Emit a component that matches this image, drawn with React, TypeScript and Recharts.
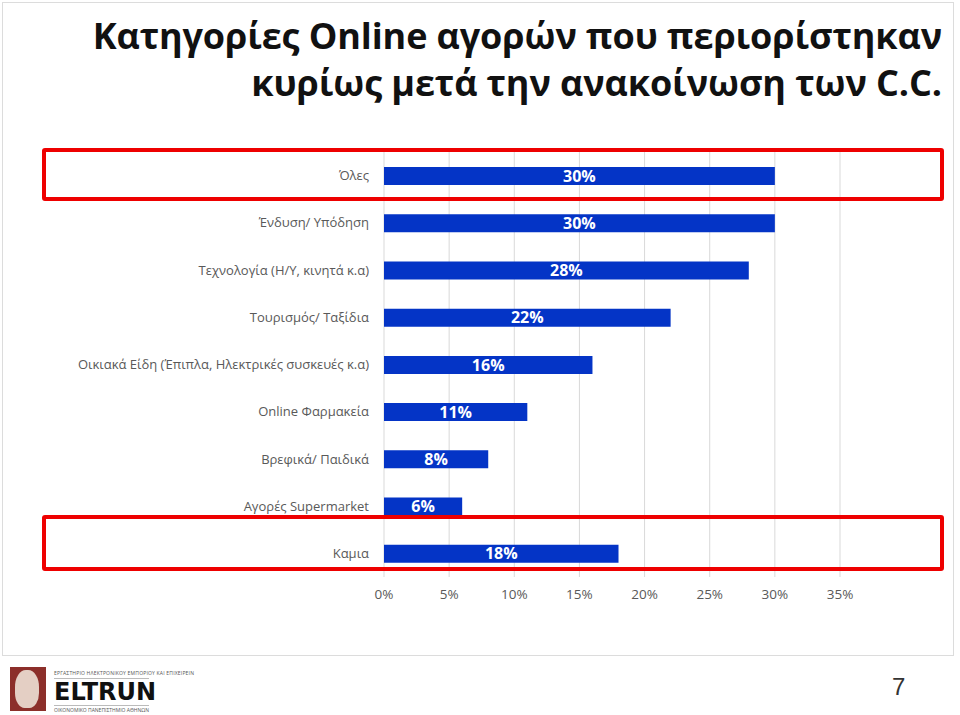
import { BarChart, Bar, XAxis, YAxis, CartesianGrid, LabelList } from 'recharts'

const categories = [
  'Όλες',
  'Ένδυση/ Υπόδηση',
  'Τεχνολογία (Η/Υ, κινητά κ.α)',
  'Τουρισμός/ Ταξίδια',
  'Οικιακά Είδη (Έπιπλα, Ηλεκτρικές συσκευές κ.α)',
  'Online Φαρμακεία',
  'Βρεφικά/ Παιδικά',
  'Αγορές Supermarket',
  'Καμια',
]
const shares = [30, 30, 28, 22, 16, 11, 8, 6, 18]
const xTicks = [0, 5, 10, 15, 20, 25, 30, 35]

const data = categories.map((name, i) => ({ name, value: shares[i] }))

const BLUE = '#0434c6'
const GREY_TEXT = '#595959'
const FONT = '"Open Sans", "DejaVu Sans", sans-serif'

const redBox = (top: number, height: number) => ({
  position: 'absolute' as const,
  left: 42,
  top,
  width: 902,
  height,
  border: '4px solid #ee0000',
  borderRadius: 3,
  boxSizing: 'border-box' as const,
  pointerEvents: 'none' as const,
})

export default function App() {
  return (
    <div
      style={{
        position: 'fixed',
        left: 0,
        top: 0,
        width: 960,
        height: 715,
        background: '#fff',
        fontFamily: FONT,
        overflow: 'hidden',
      }}
    >
      {/* ── slide frame ── */}
      <div
        style={{
          position: 'absolute',
          left: 2,
          top: 2,
          width: 952,
          height: 654,
          border: '1px solid #dcdcdc',
          boxSizing: 'border-box',
        }}
      />

      {/* ── title ── */}
      <div
        style={{
          position: 'absolute',
          right: 18,
          top: 12,
          textAlign: 'right',
          fontWeight: 700,
          fontSize: 36,
          lineHeight: '47px',
          letterSpacing: '-0.1px',
          color: '#111',
        }}
      >
        Κατηγορίες Online αγορών που περιορίστηκαν
        <br />
        κυρίως μετά την ανακοίνωση των C.C.
      </div>

      {/* ── chart ── */}
      <div style={{ position: 'absolute', left: 0, top: 0 }}>
        <BarChart
          width={960}
          height={715}
          data={data}
          layout="vertical"
          margin={{ top: 152, right: 120, bottom: 108, left: 0 }}
          barCategoryGap={0}
        >
          <CartesianGrid horizontal={false} stroke="#d9d9d9" />
          <XAxis
            type="number"
            domain={[0, 35]}
            ticks={xTicks}
            tickFormatter={(v: number) => `${v}%`}
            axisLine={false}
            tickLine={false}
            tickSize={0}
            tickMargin={12}
            height={30}
            interval={0}
            tick={{ fill: GREY_TEXT, fontSize: 13.5, fontFamily: FONT }}
          />
          <YAxis
            type="category"
            dataKey="name"
            width={384}
            axisLine={false}
            tickLine={false}
            tickSize={0}
            tickMargin={15}
            interval={0}
            tick={{ fill: GREY_TEXT, fontSize: 13, fontFamily: FONT }}
          />
          <Bar dataKey="value" fill={BLUE} barSize={18} isAnimationActive={false}>
            <LabelList
              dataKey="value"
              position="center"
              formatter={(v: number) => `${v}%`}
              style={{ fill: '#fff', fontWeight: 700, fontSize: 16, fontFamily: FONT }}
            />
          </Bar>
        </BarChart>
      </div>

      {/* ── highlight boxes ── */}
      <div style={redBox(148, 53)} />
      <div style={redBox(515, 56)} />

      {/* ── footer logo ── */}
      <div style={{ position: 'absolute', left: 10, top: 667, width: 36, height: 44, background: '#8c2f2a' }}>
        <div
          style={{
            position: 'absolute',
            left: 5,
            top: 3,
            width: 24,
            height: 38,
            borderRadius: '45% 45% 40% 40%',
            background: '#e4cfc4',
          }}
        />
      </div>
      <div style={{ position: 'absolute', left: 54, top: 670, fontSize: 5, color: '#555', letterSpacing: '0.2px' }}>
        ΕΡΓΑΣΤΗΡΙΟ ΗΛΕΚΤΡΟΝΙΚΟΥ ΕΜΠΟΡΙΟΥ ΚΑΙ ΕΠΙΧΕΙΡΕΙΝ
      </div>
      <div style={{ position: 'absolute', left: 54, top: 678, width: 95, height: 1, background: '#bbb' }} />
      <div
        style={{
          position: 'absolute',
          left: 54,
          top: 679,
          fontSize: 24,
          fontWeight: 700,
          color: '#111',
          lineHeight: '26px',
          fontFamily: '"DejaVu Sans", sans-serif',
        }}
      >
        ELTRUN
      </div>
      <div style={{ position: 'absolute', left: 54, top: 705, width: 95, height: 1, background: '#bbb' }} />
      <div style={{ position: 'absolute', left: 54, top: 707, fontSize: 5, color: '#555' }}>
        ΟΙΚΟΝΟΜΙΚΟ ΠΑΝΕΠΙΣΤΗΜΙΟ ΑΘΗΝΩΝ
      </div>

      {/* ── page number ── */}
      <div
        style={{
          position: 'absolute',
          left: 892,
          top: 673,
          fontSize: 24,
          color: '#333',
          fontFamily: '"Liberation Sans Narrow", "Liberation Sans", sans-serif',
        }}
      >
        7
      </div>
    </div>
  )
}
